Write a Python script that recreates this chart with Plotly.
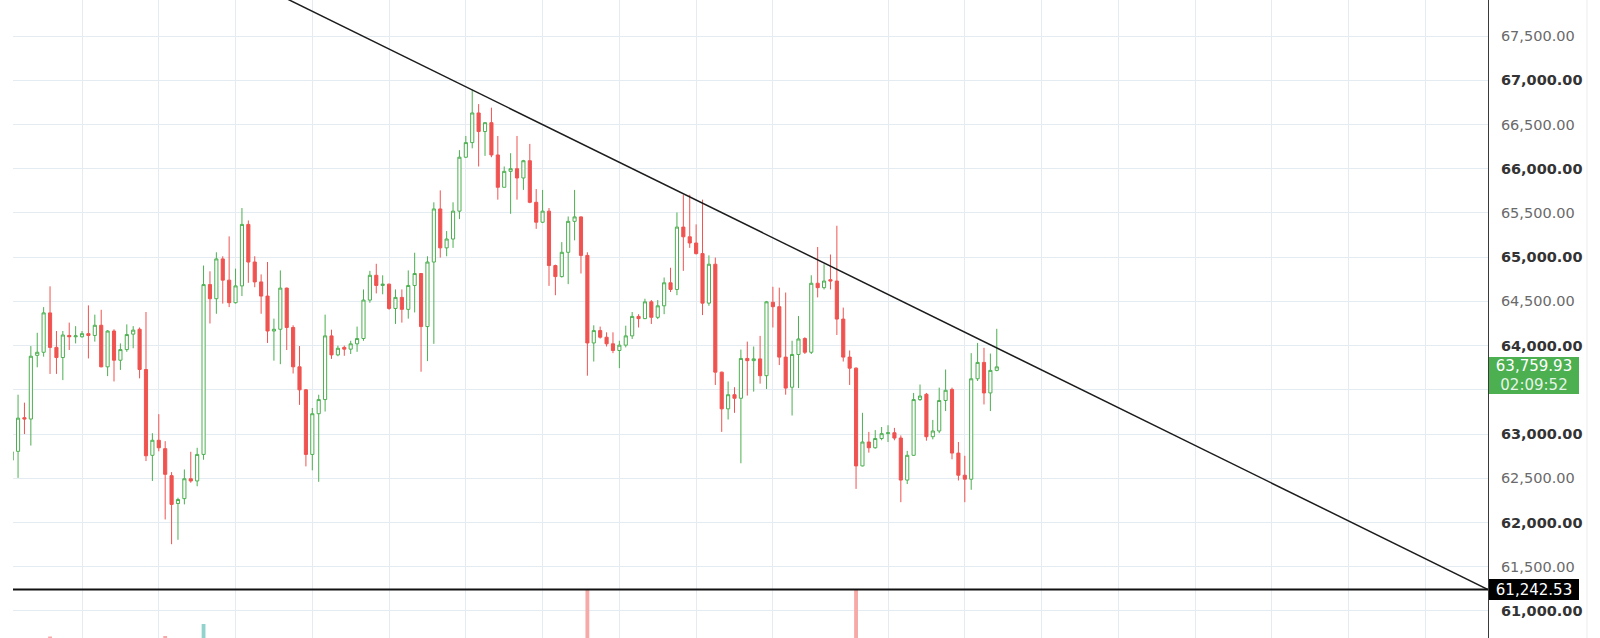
import plotly.graph_objects as go

# hourly candles, bar 0 is the one cut by the left edge
opens = [62705, 62805, 63185, 63170, 63890, 63925, 64370, 63980, 63865, 64115,
         64100, 64100, 64135, 64115, 64230, 63760, 64165, 63835, 63955, 64130,
         64185, 63730, 62760, 62930, 62835, 62530, 62215, 62270, 62495, 62470,
         62770, 64690, 64530, 64980, 64740, 64485, 64675, 65370, 64945, 64720,
         64560, 64165, 64185, 64650, 64205, 63760, 63500, 62770, 63230, 63390,
         64110, 63895, 63980, 63960, 64020, 64080, 64515, 64795, 64680, 64695,
         64420, 64545, 64410, 64680, 64815, 64215, 64945, 65545, 65105, 65205,
         65520, 66130, 66295, 66630, 66420, 66520, 66155, 65790, 65970, 66000,
         65895, 66090, 65620, 65395, 65520, 64905, 64780, 65055, 65405, 65455,
         65020, 64030, 64170, 64095, 64020, 63945, 64005, 64110, 64330, 64305,
         64495, 64320, 64450, 64710, 64635, 65340, 65230, 65160, 65040, 64480,
         64920, 63700, 63285, 63445, 63405, 63855, 63830, 63850, 63660, 64490,
         64440, 63870, 63530, 63900, 64080, 63925, 64705, 64655, 64745, 64730,
         64300, 63870, 63745, 62640, 62910, 62845, 62950, 63005, 63015, 62955,
         62480, 62760, 63390, 63450, 62970, 63035, 63380, 63505, 62785, 62535,
         62490, 63625, 63810, 63465, 63720]
highs = [62810, 63445, 63355, 63995, 64145, 64435, 64670, 64165, 64165, 64260,
         64220, 64165, 64455, 64350, 64405, 64175, 64185, 64025, 64240, 64220,
         64205, 64380, 63010, 63225, 62920, 62570, 62280, 62600, 62800, 62845,
         64905, 64840, 65055, 65010, 65235, 64870, 65555, 65415, 65010, 64805,
         64945, 64305, 64850, 64655, 64230, 63995, 63510, 63295, 63445, 64350,
         64180, 64000, 64000, 64055, 64215, 64635, 64845, 64925, 64795, 64700,
         64635, 64635, 64850, 65050, 64820, 65010, 65620, 65755, 65295, 65620,
         66210, 66370, 66895, 66730, 66525, 66690, 66370, 66025, 66175, 66370,
         66100, 66280, 65770, 65760, 65555, 64915, 65170, 65460, 65760, 65460,
         65055, 64230, 64215, 64150, 64150, 64055, 64225, 64380, 64355, 64530,
         64515, 64515, 64770, 64880, 65505, 65705, 65705, 65370, 65650, 65020,
         64995, 63705, 63595, 63530, 63955, 64045, 63990, 64110, 64505, 64665,
         64655, 64600, 64055, 64335, 64095, 64795, 65115, 64920, 65030, 65355,
         64430, 63945, 63755, 63240, 63025, 63045, 63080, 63100, 63070, 62985,
         62810, 63465, 63560, 63465, 63160, 63525, 63730, 63525, 62910, 62755,
         63915, 64030, 63975, 63910, 64190]
lows = [62690, 62505, 63000, 62870, 63755, 63875, 63680, 63680, 63610, 63950,
        64025, 64090, 63855, 64045, 63755, 63655, 63595, 63725, 63930, 63970,
        63630, 62695, 62470, 62805, 62035, 61755, 61805, 62205, 62450, 62410,
        62710, 64250, 64360, 64475, 64435, 64475, 64560, 64710, 64660, 64360,
        64030, 63830, 63790, 63950, 63685, 63330, 62635, 62590, 62460, 63255,
        63850, 63880, 63885, 63905, 63930, 64055, 64485, 64590, 64580, 64405,
        64245, 64260, 64305, 64375, 63705, 63825, 64020, 64995, 65010, 65105,
        65430, 66120, 66230, 66025, 66145, 66130, 65650, 65790, 65490, 65650,
        65760, 65610, 65320, 65385, 64675, 64570, 64770, 64695, 65190, 64815,
        63660, 63820, 64080, 63990, 63915, 63745, 63980, 64075, 64205, 64300,
        64245, 64300, 64355, 64605, 64570, 64845, 65105, 65030, 64345, 64450,
        63555, 63025, 63165, 63240, 62670, 63435, 63480, 63570, 63510, 64205,
        63780, 63445, 63210, 63520, 63905, 63905, 64545, 64635, 64635, 64120,
        63820, 63555, 62380, 62635, 62790, 62835, 62930, 62910, 62930, 62230,
        62435, 62755, 63375, 62925, 62940, 63010, 63260, 62715, 62475, 62230,
        62370, 63600, 63335, 63260, 63710]
closes = [62800, 63180, 63170, 63880, 63925, 64370, 63980, 63865, 64120, 64100,
          64110, 64135, 64115, 64230, 63760, 64165, 63835, 63955, 64125, 64175,
          63730, 62755, 62930, 62845, 62545, 62205, 62260, 62495, 62470, 62770,
          64690, 64530, 64980, 64740, 64485, 64675, 65370, 64945, 64720, 64560,
          64165, 64185, 64650, 64205, 63760, 63500, 62770, 63230, 63390, 64110,
          63895, 63970, 63960, 64020, 64080, 64515, 64795, 64680, 64695, 64420,
          64545, 64410, 64680, 64815, 64215, 64945, 65545, 65105, 65205, 65520,
          66130, 66295, 66630, 66420, 66520, 66155, 65790, 65970, 66000, 65895,
          66090, 65620, 65395, 65520, 64905, 64780, 65055, 65405, 65455, 65020,
          64030, 64170, 64095, 64020, 63945, 64005, 64110, 64330, 64305, 64495,
          64320, 64450, 64710, 64635, 65340, 65230, 65160, 65040, 64480, 64920,
          63700, 63285, 63445, 63405, 63855, 63830, 63850, 63660, 64495, 64440,
          63870, 63520, 63900, 64075, 63925, 64705, 64655, 64730, 64730, 64300,
          63870, 63745, 62640, 62910, 62845, 62950, 63005, 63015, 62955, 62480,
          62760, 63390, 63430, 62970, 63035, 63380, 63495, 62785, 62535, 62490,
          63625, 63810, 63465, 63720, 63759.93]
bars = list(range(len(opens)))

# only the volume bars tall enough to reach into the visible area
vol_bars = [6, 24, 30, 90, 132]
vol_values = [2045, 2060, 2425, 3480, 3470]
vol_up = [False, False, True, False, False]

last_price = 63759.93
countdown = "02:09:52"
support = 61242.53
trend_bars = [72, 230.8]
trend_prices = [66890, 61242.53]

price_ticks = list(range(61000, 68000, 500))
hidden_tick = 63500  # sits under the last-price tag
time_grid = [11, 23, 35, 47, 59, 71, 83, 95, 107, 119, 137, 149, 161, 173, 185, 197, 209, 221]

GREEN = "#4CAF50"
RED = "#EF5350"
GRID = "#E4ECF2"

fig = go.Figure()

fig.add_trace(go.Bar(
    x=vol_bars, y=vol_values, yaxis="y2", width=0.6,
    marker=dict(color=["#92D2CC" if up else "#F7A9A7" for up in vol_up], line_width=0),
    hoverinfo="skip"
))

fig.add_trace(go.Candlestick(
    x=bars, open=opens, high=highs, low=lows, close=closes,
    increasing=dict(line=dict(color=GREEN, width=1), fillcolor="white"),
    decreasing=dict(line=dict(color=RED, width=1), fillcolor=RED),
    whiskerwidth=0
))

# trend line, extended back past the top edge
slope = (trend_prices[1] - trend_prices[0]) / (trend_bars[1] - trend_bars[0])
x_start = 30
fig.add_trace(go.Scatter(
    x=[x_start, trend_bars[1]],
    y=[trend_prices[0] + slope * (x_start - trend_bars[0]), trend_prices[1]],
    mode="lines", line=dict(color="#1c1c1c", width=1.5), hoverinfo="skip"
))

fig.add_hline(y=support, line=dict(color="#111111", width=2))

ticktext = []
for v in price_ticks:
    s = f"{v:,.2f}"
    if v == hidden_tick:
        s = ""
    elif v % 1000 == 0:
        s = f"<span style='color:#333333'><b>{s}</b></span>"
    ticktext.append(s)

fig.update_layout(
    width=1600, height=638,
    margin=dict(l=13, r=112, t=0, b=0),
    plot_bgcolor="white", paper_bgcolor="white",
    showlegend=False,
    font=dict(family="DejaVu Sans, Arial, sans-serif", color="#666666"),
    xaxis=dict(range=[0.21, 230.79], rangeslider=dict(visible=False),
               tickvals=time_grid, showticklabels=False, ticks="",
               showgrid=True, gridcolor=GRID, gridwidth=1, zeroline=False),
    yaxis=dict(side="right", range=[60694.7, 67907],
               tickvals=price_ticks, ticktext=ticktext, ticks="",
               tickfont=dict(size=14.5, color="#6a6a6a"), ticklabelstandoff=9,
               showgrid=True, gridcolor=GRID, gridwidth=1, zeroline=False,
               showline=True, linecolor="#3a3a3a", linewidth=1),
    yaxis2=dict(overlaying="y", range=[2000, 21400], visible=False),
)

fig.add_shape(type="line", xref="paper", yref="paper", x0=1.0671, x1=1.0671, y0=0, y1=1,
              line=dict(color="#ececec", width=1))

fig.add_annotation(
    xref="paper", x=1, yref="y", y=last_price, xanchor="left", yanchor="top",
    xshift=1, yshift=10, showarrow=False,
    text=f"{last_price:,.2f}<br><span style='color:#e6f4e7'>{countdown}</span>",
    font=dict(size=15, color="white"), bgcolor=GREEN,
    width=88, height=35, borderpad=1, borderwidth=0, align="center", valign="middle"
)
fig.add_annotation(
    xref="paper", x=1, yref="y", y=support, xanchor="left", yanchor="middle",
    xshift=1, showarrow=False, text=f"{support:,.2f}",
    font=dict(size=15, color="white"), bgcolor="#000000",
    width=88, height=19, borderpad=1, borderwidth=0, align="center"
)

fig.write_html("out.html", config={"displayModeBar": False},
               post_script="document.body.style.margin='0';")
